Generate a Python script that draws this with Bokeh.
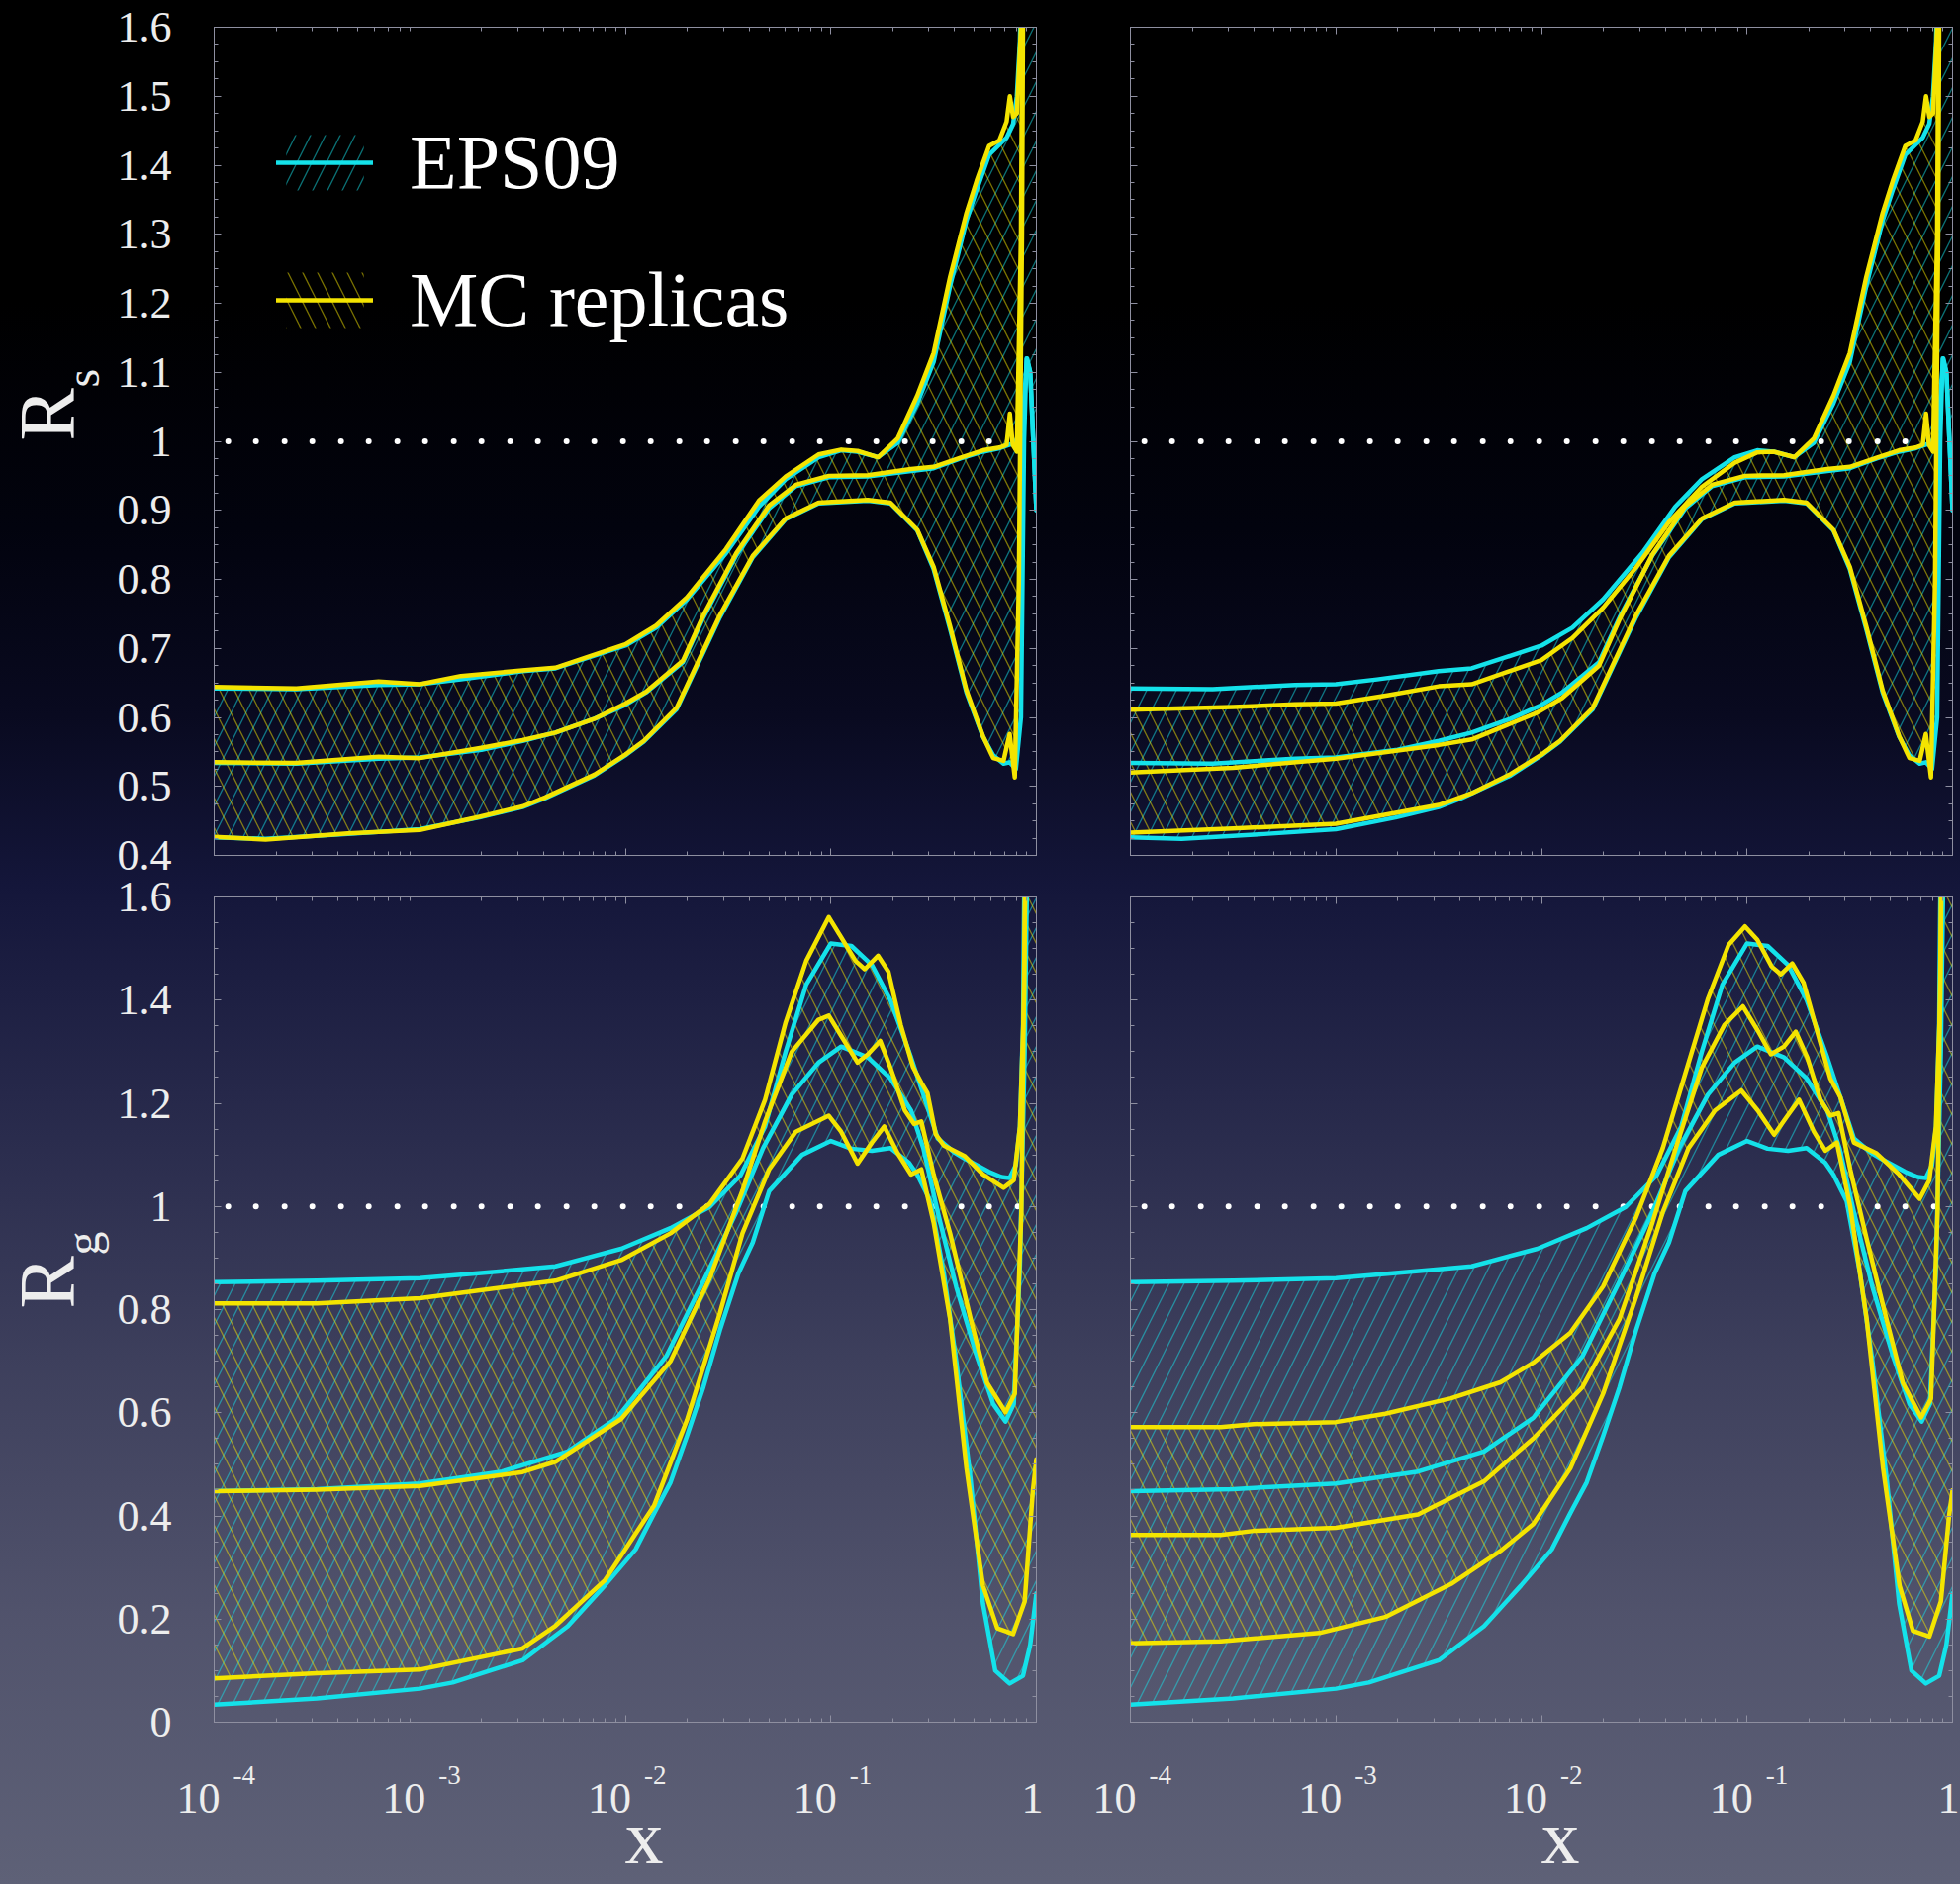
import numpy as np
from math import pi
from bokeh.plotting import figure
from bokeh.models import (Range1d, LinearAxis, LogAxis, SingleIntervalTicker, LogTicker,
                          Legend, LegendItem, GlobalInlineStyleSheet)
from bokeh.core.properties import value
from bokeh.layouts import column, row
from bokeh.embed import file_html
from bokeh.resources import INLINE

# ---------------- data: (log10 x, R) ----------------
# EPS09 (same in both columns), strange-quark ratio R_s
eps_rs_up = [(-4.0,0.642),(-3.6,0.641),(-3.2,0.647),(-3.0,0.648),(-2.8,0.655),(-2.5,0.667),(-2.34,0.671),
             (-2.0,0.704),(-1.85,0.73),(-1.70,0.771),(-1.51,0.838),(-1.35,0.905),(-1.22,0.945),(-1.06,0.977),
             (-0.95,0.987),(-0.87,0.985),(-0.77,0.977),(-0.675,0.998),(-0.58,1.055),(-0.50,1.115),(-0.42,1.225),
             (-0.34,1.32),(-0.29,1.365),(-0.23,1.415),(-0.18,1.43),(-0.145,1.44),(-0.113,1.46),(-0.095,1.50),
             (-0.08,1.58),(-0.065,1.8),(0.0,1.8)]
eps_rs_mid = [(-4.0,0.534),(-3.6,0.533),(-3.2,0.540),(-3.0,0.542),(-2.7,0.553),(-2.5,0.566),(-2.34,0.578),
              (-2.15,0.598),(-2.0,0.618),(-1.9,0.636),(-1.72,0.68),(-1.62,0.745),(-1.46,0.835),(-1.30,0.903),
              (-1.17,0.935),(-1.01,0.948),(-0.82,0.949),(-0.61,0.957),(-0.50,0.961),(-0.37,0.975),(-0.26,0.985),
              (-0.18,0.99),(-0.13,0.995),(-0.10,1.0),(-0.07,1.02),(-0.055,1.08),(-0.045,1.12),(-0.03,1.10),
              (-0.015,1.0),(0.0,0.90)]
eps_rs_lo = [(-4.0,0.426),(-3.75,0.424),(-3.35,0.431),(-3.0,0.438),(-2.71,0.455),(-2.5,0.47),(-2.39,0.483),
             (-2.15,0.516),(-2.0,0.545),(-1.91,0.565),(-1.75,0.612),(-1.54,0.745),(-1.38,0.832),(-1.22,0.887),
             (-1.06,0.910),(-0.82,0.914),(-0.71,0.910),(-0.58,0.871),(-0.50,0.815),(-0.42,0.728),(-0.34,0.636),
             (-0.26,0.572),(-0.21,0.545),(-0.16,0.533),(-0.13,0.535),(-0.10,0.525),(-0.075,0.6),(-0.06,1.0),
             (-0.048,1.12),(-0.03,1.10),(-0.015,1.0),(0.0,0.90)]

# MC replicas, left column (set A), R_s
mc_a_rs_up = [(-4.0,0.644),(-3.6,0.642),(-3.2,0.652),(-3.0,0.648),(-2.8,0.660),(-2.5,0.668),(-2.34,0.672),
              (-2.0,0.706),(-1.85,0.733),(-1.70,0.774),(-1.51,0.844),(-1.35,0.914),(-1.22,0.949),(-1.06,0.981),
              (-0.95,0.988),(-0.87,0.986),(-0.77,0.977),(-0.675,1.004),(-0.58,1.066),(-0.50,1.128),(-0.42,1.238),
              (-0.34,1.331),(-0.29,1.378),(-0.23,1.428),(-0.18,1.436),(-0.145,1.463),(-0.129,1.50),(-0.113,1.47),
              (-0.095,1.475),(-0.075,1.6),(-0.065,1.8),(0.0,1.8)]
mc_a_rs_mid = [(-4.0,0.535),(-3.6,0.534),(-3.2,0.543),(-3.0,0.541),(-2.7,0.556),(-2.5,0.567),(-2.34,0.578),
               (-2.15,0.598),(-2.0,0.620),(-1.9,0.637),(-1.72,0.682),(-1.62,0.748),(-1.46,0.838),(-1.30,0.907),
               (-1.17,0.937),(-1.01,0.950),(-0.82,0.951),(-0.61,0.960),(-0.50,0.963),(-0.37,0.976),(-0.26,0.987),
               (-0.18,0.991),(-0.145,0.995),(-0.129,1.04),(-0.115,0.995),(-0.095,0.985),(-0.075,1.3),(-0.065,1.8)]
mc_a_rs_lo = [(-4.0,0.427),(-3.75,0.423),(-3.35,0.432),(-3.0,0.437),(-2.71,0.456),(-2.5,0.471),(-2.39,0.484),
              (-2.15,0.517),(-2.0,0.546),(-1.91,0.566),(-1.75,0.614),(-1.54,0.748),(-1.38,0.834),(-1.22,0.888),
              (-1.06,0.911),(-0.82,0.915),(-0.71,0.911),(-0.58,0.872),(-0.50,0.818),(-0.42,0.732),(-0.34,0.639),
              (-0.26,0.573),(-0.21,0.541),(-0.16,0.537),(-0.13,0.576),(-0.105,0.513),(-0.085,0.8),(-0.07,1.3),
              (-0.062,1.8)]

# MC replicas, right column (set B), R_s
mc_b_rs_up = [(-4.0,0.611),(-3.5,0.615),(-3.2,0.619),(-3.0,0.620),(-2.75,0.632),(-2.5,0.645),(-2.34,0.648),
              (-2.0,0.683),(-1.85,0.715),(-1.70,0.759),(-1.54,0.817),(-1.38,0.883),(-1.22,0.934),(-1.06,0.969),
              (-0.95,0.984),(-0.87,0.985),(-0.77,0.977),(-0.675,1.004),(-0.58,1.066),(-0.50,1.128),(-0.42,1.238),
              (-0.34,1.331),(-0.29,1.378),(-0.23,1.428),(-0.18,1.436),(-0.145,1.463),(-0.129,1.50),(-0.113,1.47),
              (-0.095,1.475),(-0.075,1.6),(-0.065,1.8),(0.0,1.8)]
mc_b_rs_mid = [(-4.0,0.520),(-3.5,0.527),(-3.0,0.540),(-2.5,0.560),(-2.34,0.568),(-2.02,0.607),(-1.9,0.628),
               (-1.72,0.675),(-1.62,0.742),(-1.46,0.836),(-1.30,0.906),(-1.17,0.937),(-1.01,0.950),(-0.82,0.951),
               (-0.61,0.960),(-0.50,0.963),(-0.37,0.976),(-0.26,0.987),(-0.18,0.991),(-0.145,0.995),(-0.129,1.04),
               (-0.115,0.995),(-0.095,0.985),(-0.075,1.3),(-0.065,1.8)]
mc_b_rs_lo = [(-4.0,0.433),(-3.5,0.439),(-3.0,0.446),(-2.5,0.473),(-2.34,0.49),(-2.15,0.518),(-2.0,0.546),
              (-1.91,0.566),(-1.75,0.614),(-1.54,0.748),(-1.38,0.834),(-1.22,0.888),(-1.06,0.911),(-0.82,0.915),
              (-0.71,0.911),(-0.58,0.872),(-0.50,0.818),(-0.42,0.732),(-0.34,0.639),(-0.26,0.573),(-0.21,0.541),
              (-0.16,0.537),(-0.13,0.576),(-0.105,0.513),(-0.085,0.8),(-0.07,1.3),(-0.062,1.8)]

# EPS09, gluon ratio R_g
eps_rg_up = [(-4.0,0.853),(-3.5,0.856),(-3.0,0.861),(-2.5,0.878),(-2.34,0.884),(-2.02,0.918),(-1.78,0.958),
             (-1.59,0.999),(-1.44,1.06),(-1.32,1.155),(-1.22,1.30),(-1.12,1.43),(-1.0,1.51),(-0.9,1.505),
             (-0.80,1.468),(-0.71,1.40),(-0.61,1.289),(-0.55,1.217),(-0.48,1.132),(-0.40,1.105),(-0.35,1.093),
             (-0.23,1.067),(-0.17,1.057),(-0.13,1.055),(-0.10,1.08),(-0.08,1.155),(-0.065,1.35),(-0.055,1.8),
             (0.0,1.8)]
eps_rg_mid = [(-4.0,0.448),(-3.5,0.452),(-3.0,0.463),(-2.6,0.486),(-2.28,0.525),(-2.04,0.59),(-1.80,0.71),
              (-1.62,0.855),(-1.46,0.989),(-1.33,1.113),(-1.19,1.217),(-1.06,1.279),(-0.95,1.31),(-0.82,1.289),
              (-0.71,1.248),(-0.61,1.186),(-0.55,1.113),(-0.48,0.989),(-0.39,0.844),(-0.29,0.71),(-0.21,0.617),
              (-0.15,0.583),(-0.11,0.617),(-0.08,0.886),(-0.057,1.30),(-0.04,1.8)]
eps_rg_lo = [(-4.0,0.034),(-3.5,0.046),(-3.0,0.065),(-2.84,0.077),(-2.5,0.12),(-2.28,0.186),(-2.10,0.265),
             (-1.95,0.335),(-1.86,0.405),(-1.78,0.465),(-1.70,0.555),(-1.62,0.65),(-1.54,0.76),(-1.45,0.87),
             (-1.38,0.93),(-1.30,1.03),(-1.22,1.065),(-1.14,1.10),(-1.0,1.127),(-0.90,1.112),(-0.80,1.108),
             (-0.71,1.113),(-0.62,1.085),(-0.58,1.062),(-0.515,1.01),(-0.45,0.87),(-0.39,0.70),(-0.32,0.47),
             (-0.26,0.23),(-0.20,0.10),(-0.13,0.075),(-0.065,0.09),(-0.03,0.15),(0.0,0.25)]

# MC replicas, set A, R_g
mc_a_rg_up = [(-4.0,0.812),(-3.5,0.812),(-3.0,0.822),(-2.5,0.848),(-2.34,0.856),(-2.02,0.896),(-1.78,0.948),
              (-1.59,1.005),(-1.43,1.093),(-1.32,1.207),(-1.22,1.357),(-1.12,1.476),(-1.01,1.561),(-0.95,1.522),
              (-0.88,1.476),(-0.835,1.46),(-0.77,1.486),(-0.72,1.455),(-0.66,1.352),(-0.60,1.27),(-0.56,1.24),
              (-0.53,1.22),(-0.49,1.14),(-0.45,1.118),(-0.35,1.098),(-0.26,1.062),(-0.16,1.036),(-0.11,1.051),
              (-0.08,1.155),(-0.06,1.40),(-0.05,1.8),(0.0,1.8)]
mc_a_rg_mid = [(-4.0,0.448),(-3.5,0.451),(-3.0,0.458),(-2.5,0.485),(-2.34,0.505),(-2.02,0.588),(-1.78,0.70),
               (-1.59,0.86),(-1.43,1.031),(-1.32,1.165),(-1.19,1.30),(-1.06,1.362),(-1.01,1.37),(-0.95,1.331),
               (-0.87,1.279),(-0.82,1.295),(-0.76,1.321),(-0.71,1.269),(-0.64,1.186),(-0.595,1.16),(-0.56,1.165),
               (-0.50,1.062),(-0.42,0.948),(-0.32,0.782),(-0.24,0.658),(-0.15,0.601),(-0.105,0.637),(-0.073,0.989),
               (-0.05,1.8)]
mc_a_rg_lo = [(-4.0,0.085),(-3.5,0.095),(-3.0,0.102),(-2.5,0.143),(-2.34,0.187),(-2.10,0.275),(-1.86,0.42),
              (-1.70,0.586),(-1.54,0.793),(-1.43,0.948),(-1.30,1.072),(-1.17,1.145),(-1.01,1.176),(-0.95,1.145),
              (-0.87,1.083),(-0.80,1.124),(-0.74,1.155),(-0.675,1.103),(-0.61,1.062),(-0.56,1.072),(-0.50,0.969),
              (-0.42,0.782),(-0.34,0.492),(-0.26,0.265),(-0.19,0.182),(-0.113,0.171),(-0.057,0.234),(-0.017,0.45),
              (0.0,0.51)]

# MC replicas, set B, R_g
mc_b_rg_up = [(-4.0,0.572),(-3.56,0.572),(-3.40,0.578),(-3.0,0.582),(-2.76,0.598),(-2.44,0.628),(-2.20,0.659),
              (-2.04,0.697),(-1.86,0.755),(-1.70,0.845),(-1.54,0.979),(-1.41,1.113),(-1.30,1.258),(-1.19,1.403),
              (-1.09,1.507),(-1.01,1.543),(-0.95,1.517),(-0.88,1.465),(-0.835,1.45),(-0.78,1.471),(-0.725,1.434),
              (-0.66,1.341),(-0.595,1.248),(-0.546,1.212),(-0.48,1.124),(-0.37,1.103),(-0.26,1.062),(-0.16,1.015),
              (-0.113,1.051),(-0.081,1.155),(-0.06,1.40),(-0.05,1.8),(0.0,1.8)]
mc_b_rg_mid = [(-4.0,0.363),(-3.56,0.363),(-3.40,0.371),(-3.0,0.377),(-2.6,0.403),(-2.28,0.467),(-2.04,0.55),
               (-1.80,0.65),(-1.62,0.782),(-1.46,0.969),(-1.33,1.134),(-1.22,1.269),(-1.11,1.352),(-1.02,1.388),
               (-0.948,1.341),(-0.884,1.295),(-0.82,1.31),(-0.763,1.339),(-0.707,1.289),(-0.643,1.207),
               (-0.595,1.176),(-0.555,1.181),(-0.498,1.072),(-0.418,0.937),(-0.322,0.782),(-0.242,0.658),
               (-0.153,0.591),(-0.105,0.627),(-0.073,0.989),(-0.05,1.8)]
mc_b_rg_lo = [(-4.0,0.153),(-3.56,0.157),(-3.08,0.173),(-2.76,0.204),(-2.44,0.268),(-2.20,0.332),(-2.04,0.384),
              (-1.86,0.492),(-1.70,0.637),(-1.54,0.824),(-1.41,0.989),(-1.285,1.113),(-1.156,1.186),(-1.028,1.225),
              (-0.948,1.186),(-0.868,1.139),(-0.803,1.176),(-0.747,1.207),(-0.675,1.145),(-0.619,1.108),
              (-0.563,1.124),(-0.498,1.0),(-0.418,0.782),(-0.338,0.492),(-0.258,0.265),(-0.193,0.177),
              (-0.113,0.166),(-0.057,0.234),(-0.017,0.40),(0.0,0.45)]

# reference line R = 1, ticks and labels
ref_x = [1.17e-4, 0.87]
ref_y = [1.0, 1.0]
rs_tick_vals = [0.4, 0.5, 0.6, 0.7, 0.8, 0.9, 1.0, 1.1, 1.2, 1.3, 1.4, 1.5, 1.6]
rs_tick_text = ["0.4", "0.5", "0.6", "0.7", "0.8", "0.9", "1", "1.1", "1.2", "1.3", "1.4", "1.5", "1.6"]
rg_tick_vals = [0.0, 0.2, 0.4, 0.6, 0.8, 1.0, 1.2, 1.4, 1.6]
rg_tick_text = ["0", "0.2", "0.4", "0.6", "0.8", "1", "1.2", "1.4", "1.6"]
x_dec_vals = [1e-4, 1e-3, 1e-2, 1e-1]
x_dec_base = ["10", "10", "10", "10"]
x_dec_sup = ["-4", "-3", "-2", "-1"]
x_one_val = [1.0]
x_one_text = ["1"]
legend_labels = ["EPS09", "MC replicas"]

# ---------------- style / layout (pixels) ----------------
CYAN = "#14e2ea"
YELLOW = "#f4e400"
FRAME = "#8e8fa0"
TXT = "#ededed"
SERIF = "Liberation Serif"
GRADIENT = ("linear-gradient(to bottom, #000000 0%, #000000 16%, #02030e 28%, #090a20 38%, "
            "#14163a 47%, #26284a 58%, #3d3f5c 72%, #51536c 86%, #5e6177 100%)")
PAGE_W, PAGE_H = 1981, 1904
STRIP_W = 180
TOP_H, BOT_H = 885, 858
XSTRIP_H = PAGE_H - TOP_H - BOT_H
TOP_FRAME = (27, 864)      # y of frame top / bottom, top row
BOT_FRAME = (906, 1740)    # y of frame top / bottom, bottom row
FRAME_W = 831
COLS = {True: dict(width=914, bl=36, br=47), False: dict(width=887, bl=48, br=8)}


def pts(pairs):
    lx = np.array([a for a, _ in pairs], dtype=float)
    r = np.array([b for _, b in pairs], dtype=float)
    return 10.0 ** lx, r


def band(p, up, lo, color, pattern):
    xu, yu = pts(up)
    xl, yl = pts(lo)
    xs = np.concatenate([xu, xl[::-1]])
    ys = np.concatenate([yu, yl[::-1]])
    return p.patch(xs, ys, fill_color=None, fill_alpha=0, line_color=None,
                   hatch_pattern=pattern, hatch_color=color, hatch_alpha=0.5,
                   hatch_weight=1.3, hatch_scale=30)


def curve(p, pairs, color):
    x, y = pts(pairs)
    return p.line(x, y, line_color=color, line_width=4.5, line_join="round", line_cap="round")


def style_axis(ax):
    ax.axis_line_color = FRAME
    ax.axis_line_width = 1
    ax.major_tick_line_color = FRAME
    ax.minor_tick_line_color = FRAME
    ax.major_tick_in = 7
    ax.major_tick_out = 0
    ax.minor_tick_in = 4
    ax.minor_tick_out = 0
    ax.major_label_text_font_size = "1px"
    ax.major_label_text_alpha = 0
    ax.major_label_standoff = 0


def bare(p):
    p.background_fill_color = None
    p.border_fill_color = None
    p.outline_line_color = None


def make_panel(top, left, eps, mc):
    c = COLS[left]
    height = TOP_H if top else BOT_H
    y0 = 0.4 if top else 0.0
    step = 0.1 if top else 0.2
    p = figure(width=c["width"], height=height, x_axis_type="log",
               x_range=Range1d(1e-4, 1.0), y_range=Range1d(y0, 1.6),
               output_backend="svg", toolbar_location=None, tools="",
               min_border_left=c["bl"], min_border_right=c["br"],
               min_border_top=27 if top else 21, min_border_bottom=21 if top else 3)
    bare(p)
    p.outline_line_color = FRAME
    p.outline_line_width = 1
    p.xgrid.visible = False
    p.ygrid.visible = False

    p.yaxis[0].ticker = SingleIntervalTicker(interval=step, num_minor_ticks=4)
    style_axis(p.yaxis[0])
    style_axis(p.xaxis[0])
    ax_r = LinearAxis(ticker=SingleIntervalTicker(interval=step, num_minor_ticks=4))
    style_axis(ax_r)
    p.add_layout(ax_r, "right")
    ax_t = LogAxis(ticker=LogTicker(num_minor_ticks=10))
    style_axis(ax_t)
    p.add_layout(ax_t, "above")

    eps_up, eps_mid, eps_lo = eps
    mc_up, mc_mid, mc_lo = mc
    eb = band(p, eps_up, eps_lo, CYAN, "/")
    mb = band(p, mc_up, mc_lo, YELLOW, "\\")
    p.line(ref_x, ref_y, line_color="white", line_width=6, line_dash="0 28 0 29", line_cap="round")
    curve(p, eps_up, CYAN)
    em = curve(p, eps_mid, CYAN)
    curve(p, eps_lo, CYAN)
    curve(p, mc_up, YELLOW)
    mm = curve(p, mc_mid, YELLOW)
    curve(p, mc_lo, YELLOW)

    if top and left:
        legend = Legend(items=[LegendItem(label=legend_labels[0], renderers=[eb, em]),
                               LegendItem(label=legend_labels[1], renderers=[mb, mm])],
                        location=(63, 516))
        legend.glyph_width = 98
        legend.glyph_height = 70
        legend.label_height = 70
        legend.label_standoff = 37
        legend.spacing = 49
        legend.padding = 0
        legend.margin = 0
        legend.label_text_font = SERIF
        legend.label_text_font_size = "78px"
        legend.label_text_color = "white"
        legend.background_fill_alpha = 0
        legend.border_line_alpha = 0
        p.add_layout(legend)
    return p


def make_left_strip():
    # strip on the left holding the y tick labels and the y titles; y is page pixels
    s = figure(width=STRIP_W, height=PAGE_H, x_range=Range1d(0, STRIP_W), y_range=Range1d(PAGE_H, 0),
               output_backend="svg", toolbar_location=None, tools="", min_border=0,
               x_axis_location=None, y_axis_location=None)
    bare(s)
    s.grid.visible = False
    t0, t1 = TOP_FRAME
    b0, b1 = BOT_FRAME
    ppu_t = (t1 - t0) / 1.2
    ppu_b = (b1 - b0) / 1.6
    s.extra_y_ranges = {
        "rs": Range1d(start=0.4 - (PAGE_H - t1) / ppu_t, end=1.6 + t0 / ppu_t),
        "rg": Range1d(start=0.0 - (PAGE_H - b1) / ppu_b, end=1.6 + b0 / ppu_b),
    }
    common = dict(text_font=value(SERIF), text_color=TXT, text_baseline="middle", text_align="right")
    s.text(x=[173] * len(rs_tick_vals), y=rs_tick_vals, text=rs_tick_text, y_range_name="rs",
           text_font_size=value("44px"), **common)
    s.text(x=[173] * len(rg_tick_vals), y=rg_tick_vals, text=rg_tick_text, y_range_name="rg",
           text_font_size=value("44px"), **common)
    ttl = dict(text_font=value(SERIF), text_color=TXT, text_baseline="middle", text_align="left",
               angle=pi / 2)
    s.text(x=[47], y=[445], text=["R"], text_font_size=value("80px"), **ttl)
    s.text(x=[83], y=[391], text=["s"], text_font_size=value("48px"), **ttl)
    s.text(x=[47], y=[1322], text=["R"], text_font_size=value("80px"), **ttl)
    s.text(x=[83], y=[1268], text=["g"], text_font_size=value("48px"), **ttl)
    return s


def make_x_strip(left):
    # strip under a bottom panel; its log x scale is the panel's, widened over the side borders
    c = COLS[left]
    dec_px = FRAME_W / 4.0
    xr = Range1d(10.0 ** (-4.0 - c["bl"] / dec_px), 10.0 ** (c["br"] / dec_px))
    s = figure(width=c["width"], height=XSTRIP_H, x_axis_type="log", x_range=xr,
               y_range=Range1d(XSTRIP_H, 0), output_backend="svg", toolbar_location=None, tools="",
               min_border=0, x_axis_location=None, y_axis_location=None)
    bare(s)
    s.grid.visible = False
    top = TOP_H + BOT_H
    base_y = 1817 - top
    sup_y = 1793 - top
    lab_y = 1856 - top
    common = dict(text_font=value(SERIF), text_color=TXT, text_baseline="middle")
    s.text(x=x_dec_vals, y=[base_y] * len(x_dec_vals), text=x_dec_base, x_offset=6, text_align="right",
           text_font_size=value("44px"), **common)
    s.text(x=x_dec_vals, y=[sup_y] * len(x_dec_vals), text=x_dec_sup, x_offset=19, text_align="left",
           text_font_size=value("27px"), **common)
    s.text(x=x_one_val, y=[base_y], text=x_one_text, x_offset=7, text_align="right",
           text_font_size=value("44px"), **common)
    s.text(x=[1e-2], y=[lab_y], text=["x"], x_offset=19, text_align="center",
           text_font_size=value("78px"), **common)
    return s


tl = make_panel(True, True, (eps_rs_up, eps_rs_mid, eps_rs_lo), (mc_a_rs_up, mc_a_rs_mid, mc_a_rs_lo))
tr = make_panel(True, False, (eps_rs_up, eps_rs_mid, eps_rs_lo), (mc_b_rs_up, mc_b_rs_mid, mc_b_rs_lo))
bl = make_panel(False, True, (eps_rg_up, eps_rg_mid, eps_rg_lo), (mc_a_rg_up, mc_a_rg_mid, mc_a_rg_lo))
br = make_panel(False, False, (eps_rg_up, eps_rg_mid, eps_rg_lo), (mc_b_rg_up, mc_b_rg_mid, mc_b_rg_lo))
ls = make_left_strip()
xs_l = make_x_strip(True)
xs_r = make_x_strip(False)

css = GlobalInlineStyleSheet(css=(
    "html { background: %s; min-height: 100%%; overflow: hidden; } "
    "body { background: transparent; margin: 0; overflow: hidden; }" % GRADIENT))
layout = row(ls,
             column(row(tl, tr, spacing=0), row(bl, br, spacing=0), row(xs_l, xs_r, spacing=0), spacing=0),
             spacing=0, stylesheets=[css])

open("out.html", "w").write(file_html(layout, INLINE))
